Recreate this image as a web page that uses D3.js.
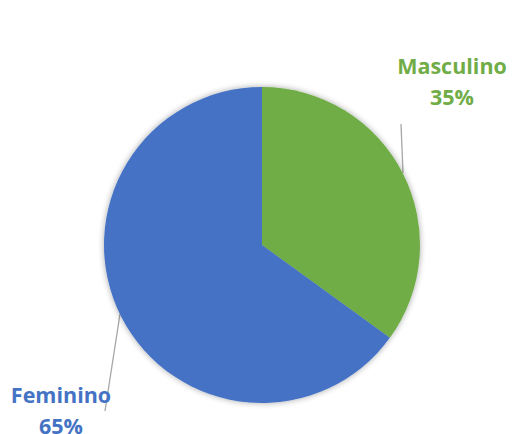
<!DOCTYPE html>
<html>
<head>
<meta charset="utf-8">
<script src="https://cdn.jsdelivr.net/npm/d3@7"></script>
<style>
  html, body { margin: 0; padding: 0; background: #fff; }
  svg { display: block; }
  .lbl { font-family: "Open Sans", Lato, sans-serif; font-weight: bold; }
</style>
</head>
<body>
<svg id="chart" width="513" height="434"></svg>
<script>
// Gender split
const categories = ["Masculino", "Feminino"];
const values = [35, 65];
const colors = ["#70AD47", "#4472C4"];

const cx = 262, cy = 245, R = 158;

const svg = d3.select("#chart");

// soft outer shadow around the pie
const defs = svg.append("defs");
const f = defs.append("filter").attr("id", "shadow")
  .attr("x", "-20%").attr("y", "-20%").attr("width", "140%").attr("height", "140%");
f.append("feGaussianBlur").attr("in", "SourceAlpha").attr("stdDeviation", 3).attr("result", "b");
f.append("feComponentTransfer").attr("in", "b").attr("result", "s")
  .append("feFuncA").attr("type", "linear").attr("slope", 0.35);
const m = f.append("feMerge");
m.append("feMergeNode").attr("in", "s");
m.append("feMergeNode").attr("in", "SourceGraphic");

const pie = d3.pie().sort(null).value(d => d)(values);
const arc = d3.arc().innerRadius(0).outerRadius(R);

// leader lines from labels to the slice edges (drawn below the slices)
const leaders = [
  { from: [401, 124], to: [403, 173] },
  { from: [105, 411], to: [120, 314] }
];
svg.append("g").selectAll("line").data(leaders).join("line")
  .attr("x1", d => d.from[0]).attr("y1", d => d.from[1])
  .attr("x2", d => d.to[0]).attr("y2", d => d.to[1])
  .attr("stroke", "#A6A6A6").attr("stroke-width", 1.3);

const g = svg.append("g").attr("transform", `translate(${cx},${cy})`)
  .attr("filter", "url(#shadow)");
g.selectAll("path").data(pie).join("path")
  .attr("d", arc)
  .attr("fill", (d, i) => colors[i]);

// labels: category name + percentage
const labelPos = [
  { x: 452, y: 74 },
  { x: 61, y: 402.5 }
];
const total = d3.sum(values);
const lg = svg.append("g");
categories.forEach((c, i) => {
  const t = lg.append("text").attr("class", "lbl")
    .attr("text-anchor", "middle")
    .attr("fill", colors[i])
    .attr("font-size", 21.5);
  t.append("tspan").attr("x", labelPos[i].x).attr("y", labelPos[i].y).text(c);
  t.append("tspan").attr("x", labelPos[i].x).attr("y", labelPos[i].y + 31)
    .text(Math.round(values[i] / total * 100) + "%");
});
</script>
</body>
</html>
